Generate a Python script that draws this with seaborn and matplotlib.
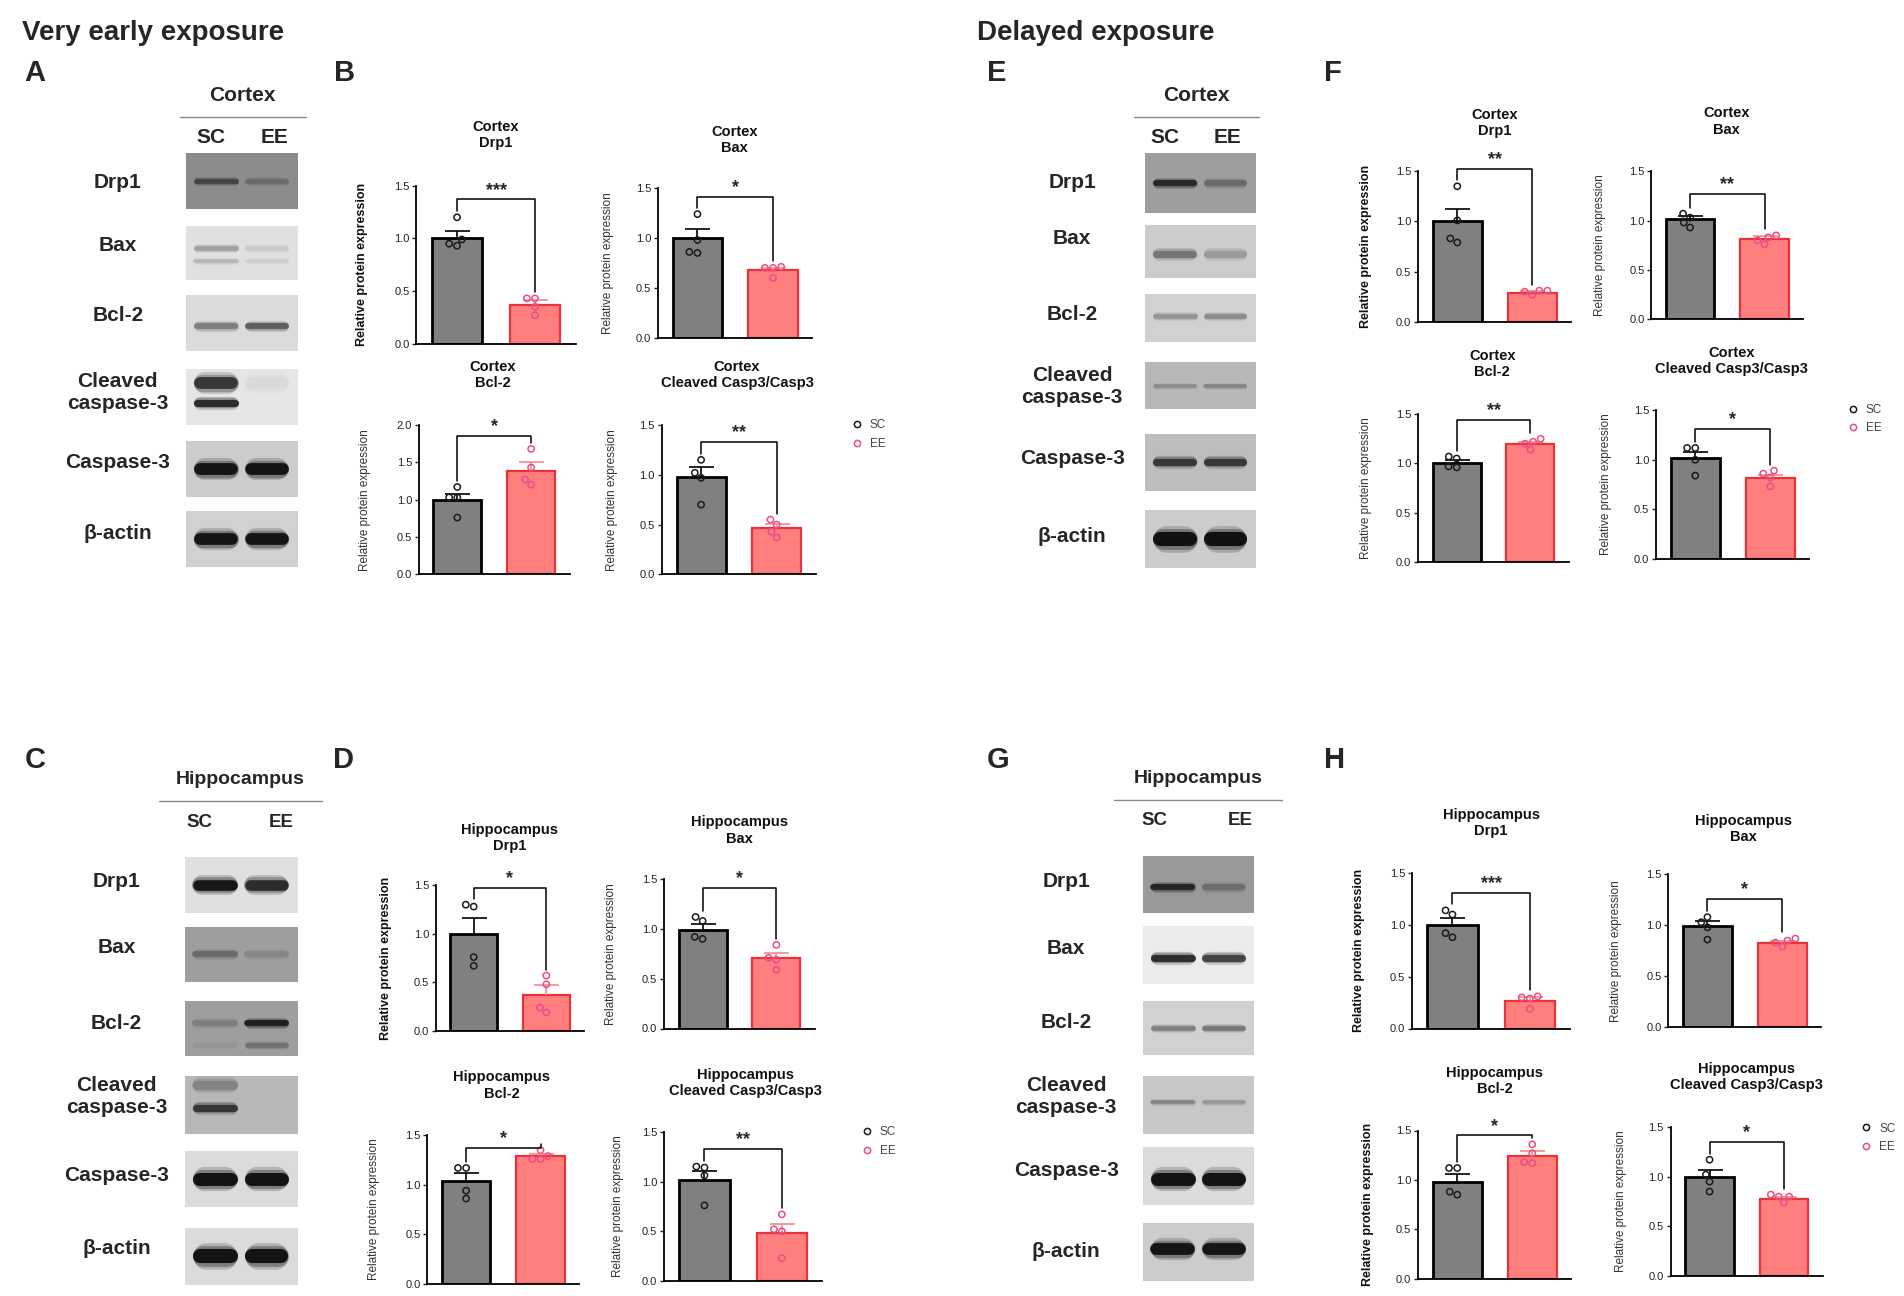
import numpy as np
import pandas as pd
import matplotlib
matplotlib.use("Agg")
import matplotlib.pyplot as plt
import seaborn as sns
from matplotlib.lines import Line2D

# ---------------- data ----------------
groups = ["SC", "EE"]
proteins = ["Drp1", "Bax", "Bcl-2", "Cleaved Casp3/Casp3"]

# B: very early exposure, cortex
b_means = [[1.00, 0.37], [1.00, 0.68], [1.00, 1.39], [0.98, 0.47]]
b_sems = [[0.07, 0.04], [0.09, 0.02], [0.08, 0.11], [0.10, 0.04]]
b_sc = [[1.20, 0.99, 0.93, 0.95], [1.24, 0.98, 0.85, 0.86], [1.17, 1.03, 1.03, 0.76], [1.15, 1.02, 0.97, 0.70]]
b_ee = [[0.43, 0.43, 0.35, 0.27], [0.71, 0.70, 0.70, 0.60], [1.68, 1.43, 1.27, 1.20], [0.55, 0.50, 0.43, 0.37]]
b_stars = ["***", "*", "*", "**"]
b_brackets = [1.37, 1.41, 1.85, 1.33]
b_ymax = [1.5, 1.5, 2.0, 1.5]

# F: delayed exposure, cortex
f_means = [[1.00, 0.29], [1.02, 0.81], [1.00, 1.20], [1.02, 0.82]]
f_sems = [[0.12, 0.02], [0.03, 0.03], [0.03, 0.02], [0.06, 0.03]]
f_sc = [[1.35, 1.01, 0.83, 0.79], [1.07, 1.03, 0.98, 0.93], [1.07, 1.05, 0.97, 0.96], [1.12, 1.12, 1.00, 0.84]]
f_ee = [[0.31, 0.30, 0.31, 0.27], [0.85, 0.83, 0.80, 0.76], [1.25, 1.22, 1.20, 1.14], [0.89, 0.86, 0.82, 0.73]]
f_stars = ["**", "**", "**", "*"]
f_brackets = [1.52, 1.27, 1.44, 1.31]
f_ymax = [1.5, 1.5, 1.5, 1.5]

# D: very early exposure, hippocampus
d_means = [[1.00, 0.37], [0.99, 0.71], [1.04, 1.29], [1.02, 0.48]]
d_sems = [[0.16, 0.10], [0.06, 0.05], [0.08, 0.02], [0.09, 0.09]]
d_sc = [[1.30, 1.28, 0.76, 0.67], [1.12, 1.08, 0.92, 0.90], [1.17, 1.17, 0.94, 0.86], [1.15, 1.14, 1.06, 0.76]]
d_ee = [[0.57, 0.48, 0.24, 0.19], [0.84, 0.71, 0.69, 0.59], [1.35, 1.29, 1.26, 1.26], [0.67, 0.52, 0.50, 0.23]]
d_stars = ["*", "*", "*", "**"]
d_brackets = [1.47, 1.41, 1.37, 1.33]
d_ymax = [1.5, 1.5, 1.5, 1.5]

# H: delayed exposure, hippocampus
h_means = [[1.00, 0.27], [0.99, 0.83], [0.98, 1.24], [1.00, 0.78]]
h_sems = [[0.07, 0.03], [0.05, 0.02], [0.08, 0.05], [0.07, 0.02]]
h_sc = [[1.14, 1.10, 0.92, 0.88], [1.08, 1.03, 0.98, 0.86], [1.12, 1.12, 0.88, 0.85], [1.17, 1.02, 0.95, 0.85]]
h_ee = [[0.31, 0.30, 0.29, 0.19], [0.87, 0.85, 0.83, 0.79], [1.36, 1.27, 1.18, 1.17], [0.82, 0.80, 0.80, 0.74]]
h_stars = ["***", "*", "*", "*"]
h_brackets = [1.31, 1.26, 1.45, 1.35]
h_ymax = [1.5, 1.5, 1.5, 1.5]

# western blots: background grey and bands (y, thickness, SC darkness, EE darkness)
blot_labels = ["Drp1", "Bax", "Bcl-2", "Cleaved\ncaspase-3", "Caspase-3", "β-actin"]
a_bg = [0.55, 0.88, 0.86, 0.90, 0.80, 0.82]
a_bands = [[(0.50, 4, 0.55, 0.25)],
           [(0.60, 4, 0.30, 0.10), (0.35, 3, 0.20, 0.08)],
           [(0.45, 5, 0.45, 0.60)],
           [(0.75, 10, 0.80, 0.05), (0.40, 6, 0.85, 0.0)],
           [(0.50, 10, 0.95, 0.95)],
           [(0.50, 10, 0.95, 0.95)]]
e_bg = [0.62, 0.80, 0.82, 0.72, 0.74, 0.80]
e_bands = [[(0.50, 5, 0.80, 0.35)],
           [(0.45, 6, 0.45, 0.25)],
           [(0.55, 4, 0.30, 0.35)],
           [(0.50, 3, 0.25, 0.30)],
           [(0.50, 6, 0.75, 0.75)],
           [(0.50, 12, 0.97, 0.97)]]
c_bg = [0.88, 0.62, 0.62, 0.72, 0.86, 0.86]
c_bands = [[(0.50, 9, 0.95, 0.85)],
           [(0.50, 5, 0.35, 0.15)],
           [(0.60, 5, 0.20, 0.85), (0.20, 4, 0.05, 0.30)],
           [(0.45, 6, 0.75, 0.0), (0.85, 8, 0.30, 0.0)],
           [(0.50, 11, 0.97, 0.97)],
           [(0.50, 12, 0.97, 0.97)]]
g_bg = [0.60, 0.92, 0.82, 0.78, 0.86, 0.80]
g_bands = [[(0.45, 5, 0.80, 0.30)],
           [(0.45, 6, 0.85, 0.75)],
           [(0.50, 4, 0.40, 0.45)],
           [(0.55, 3, 0.35, 0.25)],
           [(0.45, 11, 0.97, 0.97)],
           [(0.55, 10, 0.95, 0.95)]]

# ---------------- style ----------------
sns.set_theme(style="white")
plt.rcParams["font.family"] = ["Liberation Sans", "DejaVu Sans"]

bar_fill = {"SC": "#808080", "EE": "#FF7F7F"}
bar_edge = {"SC": "#000000", "EE": "#E8333A"}
pt_col = {"SC": "#1a1a1a", "EE": "#EC4C86"}
err_col = {"SC": "#000000", "EE": "#F28A8A"}

W, H = 1904, 1296
S = W / 1568.0  # layout measured on a 1568 px wide view

fig = plt.figure(figsize=(W / 100, H / 100), dpi=100)


def rect(x0, x1, ybot, ytop):
    return [x0 * S / W, 1 - ybot * S / H, (x1 - x0) * S / W, (ybot - ytop) * S / H]


def ftext(x, y, s, **kw):
    return fig.text(x * S / W, 1 - y * S / H, s, **kw)


def draw_chart(box, title, means, sems, sc_pts, ee_pts, star, bracket, ymax,
               title_xy, ylab_x, bold_label):
    ax = fig.add_axes(rect(*box))
    bars = pd.DataFrame({"group": groups, "value": means})
    sns.barplot(data=bars, x="group", y="value", hue="group", order=groups,
                hue_order=groups, palette=bar_fill, width=0.65, saturation=1,
                errorbar=None, legend=False, ax=ax, zorder=2)
    for patch, g in zip(ax.patches, groups):
        patch.set_edgecolor(bar_edge[g])
        patch.set_linewidth(2.0 if g == "SC" else 1.6)

    for i, g in enumerate(groups):
        _, caps, _ = ax.errorbar(i, means[i], yerr=[[0], [sems[i]]], fmt="none",
                                 ecolor=err_col[g], elinewidth=1.2, capsize=9,
                                 capthick=1.2, zorder=3)
        for c in caps:
            if abs(c.get_ydata()[0] - means[i]) < 1e-9:
                c.remove()

    pts = pd.DataFrame({"group": ["SC"] * len(sc_pts) + ["EE"] * len(ee_pts),
                        "value": sc_pts + ee_pts})
    n0 = len(ax.collections)
    sns.swarmplot(data=pts, x="group", y="value", hue="group", order=groups,
                  hue_order=groups, palette=pt_col, size=4.5, legend=False,
                  ax=ax, zorder=4)
    for c in ax.collections[n0:]:
        fc = c.get_facecolors()
        c.set_edgecolors(fc)
        c.set_facecolors("none")
        c.set_linewidth(1.1)

    # significance bracket
    lb = max(max(sc_pts), means[0] + sems[0]) + 0.04 * ymax
    rb = max(max(ee_pts), means[1] + sems[1]) + 0.04 * ymax
    ax.plot([0, 0, 1, 1], [lb, bracket, bracket, rb], color="black", lw=1.1,
            clip_on=False, zorder=5)
    ax.text(0.5, bracket + 0.005 * ymax, star, ha="center", va="bottom",
            fontsize=13, fontweight="bold", clip_on=False)

    ax.set_xlim(-0.52, 1.52)
    ax.set_ylim(0, ymax)
    ticks = np.arange(0, ymax + 0.01, 0.5)
    ax.set_yticks(ticks)
    ax.set_yticklabels([f"{v:.1f}" for v in ticks])
    ax.set_xticks([])
    ax.set_xlabel("")
    ax.tick_params(axis="y", left=True, direction="out", length=3, width=1,
                   labelsize=8, pad=2, colors="#222222")
    sns.despine(ax=ax)
    for s in ["left", "bottom"]:
        ax.spines[s].set_color("black")
        ax.spines[s].set_linewidth(1.3)
    ax.set_ylabel("Relative protein expression", fontsize=9 if bold_label else 8.5,
                  fontweight="bold" if bold_label else "normal",
                  color="#111111" if bold_label else "#333333", va="center")
    ax.yaxis.set_label_coords((ylab_x - box[0]) / (box[1] - box[0]), 0.5)
    ftext(title_xy[0], title_xy[1], title, ha="center", va="center",
          fontsize=10.5, fontweight="bold", linespacing=1.2, color="#111111")
    return ax


def draw_legend(ax, mx, my):
    handles = [Line2D([], [], ls="none", marker="o", markersize=4.5,
                      markerfacecolor="none", markeredgecolor=pt_col[g],
                      markeredgewidth=1.1) for g in groups]
    ax.legend(handles, groups, loc="center left", frameon=False,
              bbox_to_anchor=((mx - 8) * S / W, 1 - my * S / H),
              bbox_transform=fig.transFigure, handlelength=1.0,
              handletextpad=0.6, labelspacing=0.55, borderpad=0,
              fontsize=8.5, labelcolor="#444444")


def draw_blots(header, hx, hy, line_x, line_y, lane_x, lane_y, lane_fs,
               box_x, boxes, label_x, label_y, bgs, bands):
    ftext(hx, hy, header, ha="center", va="center",
          fontsize=15 if header == "Cortex" else 14, fontweight="bold")
    fig.add_artist(Line2D([line_x[0] * S / W, line_x[1] * S / W],
                          [1 - line_y * S / H] * 2, transform=fig.transFigure,
                          color="#8a8a8a", lw=1.0))
    for g, x in zip(groups, lane_x):
        ftext(x, lane_y, g, ha="center", va="center", fontsize=lane_fs, fontweight="bold")
    width_px = (box_x[1] - box_x[0]) * S
    for (yt, yb), lab, ly, bg, bl in zip(boxes, blot_labels, label_y, bgs, bands):
        ax = fig.add_axes(rect(box_x[0], box_x[1], yb, yt))
        ax.set_facecolor((bg, bg, bg))
        ax.set_xlim(0, 1)
        ax.set_ylim(0, 1)
        ax.set_xticks([])
        ax.set_yticks([])
        for s in ax.spines.values():
            s.set_visible(False)
        for y, lw, d_sc, d_ee in bl:
            for (x0, x1), d in zip([(0.07, 0.47), (0.53, 0.92)], [d_sc, d_ee]):
                if d <= 0:
                    continue
                col = bg * (1 - d)
                for k, a in [(1.6, 0.18), (1.25, 0.3), (0.85, 0.9)]:
                    # keep the rounded ends inside the lane
                    cap = lw * k * 1.389 / 2 / width_px
                    ax.plot([x0 + cap, x1 - cap], [y, y], color=(col, col, col),
                            lw=lw * k, alpha=a, solid_capstyle="round")
        ftext(label_x, ly, lab, ha="center", va="center", fontsize=15,
              fontweight="bold", linespacing=1.2)


# ---------------- headings and panel letters ----------------
ftext(18, 27, "Very early exposure", ha="left", va="center", fontsize=20, fontweight="bold")
ftext(805, 27, "Delayed exposure", ha="left", va="center", fontsize=20, fontweight="bold")
for letter, x, y in [("A", 20, 60), ("B", 275, 60), ("E", 813, 60), ("F", 1090, 60),
                     ("C", 20, 626), ("D", 274, 626), ("G", 813, 626), ("H", 1090, 626)]:
    ftext(x, y, letter, ha="left", va="center", fontsize=21, fontweight="bold")

# ---------------- blot panels ----------------
draw_blots("Cortex", 200, 79, (148, 252), 96, (174, 226), 113, 15, (153, 245),
           [(126, 172), (186, 231), (243, 289), (304, 350), (363, 409), (421, 467)],
           97, [150, 202, 260, 323, 381, 439], a_bg, a_bands)
draw_blots("Cortex", 985, 79, (934, 1037), 96, (959, 1011), 113, 15, (943, 1034),
           [(126, 175), (185, 229), (242, 282), (298, 337), (357, 404), (420, 468)],
           883, [150, 196, 259, 318, 378, 442], e_bg, e_bands)
draw_blots("Hippocampus", 198, 642, (131, 265), 660, (164, 232), 677, 13.5, (152, 245),
           [(706, 752), (763, 809), (824, 870), (886, 934), (948, 994), (1011, 1058)],
           96, [726, 780, 843, 903, 968, 1028], c_bg, c_bands)
draw_blots("Hippocampus", 987, 641, (917, 1056), 659, (951, 1021), 676, 13.5, (941, 1033),
           [(705, 752), (763, 810), (824, 869), (886, 934), (945, 992), (1007, 1055)],
           878, [726, 781, 842, 903, 964, 1031], g_bg, g_bands)

# ---------------- bar chart panels ----------------
panels = [
    ("Cortex", b_means, b_sems, b_sc, b_ee, b_stars, b_brackets, b_ymax,
     [(343, 474, 283, 153), (542, 669, 278, 155), (345, 469, 473, 350), (545, 672, 473, 350)],
     [(408, 111), (605, 115), (406, 309), (607, 309)],
     [298, 501, 301, 504], [True, False, False, False], (704, 358)),
    ("Cortex", f_means, f_sems, f_sc, f_ee, f_stars, f_brackets, f_ymax,
     [(1168, 1294, 265, 141), (1360, 1485, 263, 141), (1168, 1292, 463, 341), (1364, 1490, 460, 338)],
     [(1231, 101), (1422, 100), (1229, 300), (1426, 297)],
     [1125, 1318, 1125, 1323], [True, False, False, False], (1524, 345)),
    ("Hippocampus", d_means, d_sems, d_sc, d_ee, d_stars, d_brackets, d_ymax,
     [(359, 481, 849, 729), (547, 671, 847, 724), (352, 477, 1057, 935), (547, 677, 1055, 932)],
     [(420, 690), (609, 684), (413, 894), (614, 892)],
     [318, 503, 308, 509], [True, False, False, False], (712, 940)),
    ("Hippocampus", h_means, h_sems, h_sc, h_ee, h_stars, h_brackets, h_ymax,
     [(1163, 1293, 847, 719), (1374, 1500, 846, 720), (1168, 1294, 1053, 931), (1376, 1501, 1051, 928)],
     [(1228, 678), (1436, 683), (1231, 890), (1438, 887)],
     [1119, 1331, 1127, 1335], [True, False, True, False], (1535, 937)),
]

for region, means, sems, sc, ee, stars, brackets, ymax, boxes, titles, ylabs, bolds, leg in panels:
    last = None
    for i in range(4):
        last = draw_chart(boxes[i], f"{region}\n{proteins[i]}", means[i], sems[i],
                          sc[i], ee[i], stars[i], brackets[i], ymax[i],
                          titles[i], ylabs[i], bolds[i])
    draw_legend(last, *leg)

fig.savefig("out.png", dpi=100, facecolor="white")
